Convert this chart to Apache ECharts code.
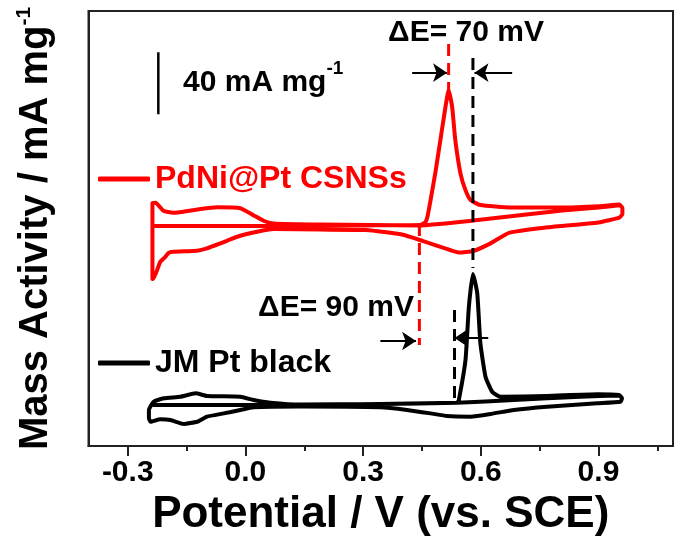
<!DOCTYPE html>
<html><head><meta charset="utf-8">
<script src="https://cdn.jsdelivr.net/npm/echarts@6/dist/echarts.min.js"></script>
<style>html,body{margin:0;padding:0;background:#fff}#c{width:685px;height:543px}</style>
</head><body><div id="c"></div>
<script>
const FONT = "'Liberation Sans', Arial, sans-serif";
const xTickLabels = [-0.3, 0.0, 0.3, 0.6, 0.9];
const xMinorTicks = [-0.15, 0.15, 0.45, 0.75, 1.05];
const seriesNames = ['PdNi@Pt CSNSs', 'JM Pt black'];

// potential (V) vs. mass activity (mA mg-1, curves offset vertically)
const redCurve = [
  [-0.237,141.6],[0.071,141.6],[0.300,142.0],[0.446,142.2],[0.459,144.1],[0.464,147.6],[0.472,158.3],[0.484,175.7],
  [0.497,196.9],[0.510,218.3],[0.518,229.1],[0.527,218.3],[0.535,196.9],[0.548,175.7],[0.561,164.7],[0.574,158.3],
  [0.599,155.1],[0.676,153.5],[0.803,153.5],[0.905,154.4],[0.953,155.4],[0.961,153.2],[0.961,149.3],[0.953,147.0],
  [0.900,143.9],[0.762,140.5],[0.672,137.2],[0.626,130.6],[0.581,125.5],[0.544,124.5],[0.507,127.4],[0.453,131.9],
  [0.399,136.1],[0.308,139.0],[0.191,139.3],[0.071,139.6],[0.030,137.9],[-0.021,134.7],[-0.064,130.4],[-0.098,127.2],
  [-0.123,125.7],[-0.184,125.0],[-0.196,124.2],[-0.204,121.8],[-0.217,118.6],[-0.235,107.5],[-0.237,107.5],[-0.237,156.4],
  [-0.229,156.6],[-0.209,151.4],[-0.184,150.1],[-0.158,150.8],[-0.115,152.5],[-0.072,153.6],[-0.013,153.0],[0.020,148.6],
  [0.046,145.0],[0.071,143.2],[0.191,142.5],[0.444,142.0],[0.581,145.1],[0.716,149.0],[0.808,151.5],[0.900,153.5],[0.953,155.0]
];
const blackCurve = [
  [-0.234,26.4],[0.140,26.4],[0.540,27.9],[0.544,29.6],[0.561,55.3],[0.569,87.5],[0.574,100.4],[0.580,110.7],
  [0.591,98.3],[0.599,66.1],[0.612,44.6],[0.629,34.9],[0.650,31.7],[0.769,32.2],[0.897,33.3],[0.952,32.8],
  [0.960,30.7],[0.956,28.5],[0.897,27.5],[0.769,25.3],[0.684,23.2],[0.625,20.6],[0.574,18.9],[0.514,19.3],
  [0.472,21.0],[0.412,23.2],[0.344,24.9],[0.140,25.4],[0.021,24.9],[-0.013,23.2],[-0.055,21.0],[-0.098,18.9],
  [-0.123,15.6],[-0.157,14.2],[-0.191,16.7],[-0.217,17.2],[-0.242,15.6],[-0.246,18.0],[-0.246,23.2],[-0.234,28.5],
  [-0.208,30.7],[-0.166,31.7],[-0.127,33.9],[-0.098,32.2],[-0.013,31.7],[0.021,29.6],[0.064,27.9],[0.140,26.7],
  [0.344,27.0],[0.540,27.9],[0.684,29.6],[0.854,31.7],[0.952,32.5]
];
const scaleBar = [[-0.222, 213.6], [-0.222, 253.5]];
const redDashTop = [[0.518, 258.7], [0.518, 229.0]];
const blackDashTop = [[0.580, 249.7], [0.580, 114.5]];
const redDashBottom = [[0.4435, 142.9], [0.4435, 65.0]];
const blackDashBottom = [[0.533, 87.5], [0.533, 29.6]];
const arrowSegments = [
  [[0.425, 240.3], [0.514, 240.3]],
  [[0.680, 240.3], [0.584, 240.3]],
  [[0.344, 67.6], [0.435, 67.6]],
  [[0.619, 69.5], [0.533, 69.5]]
];

const chart = echarts.init(document.getElementById('c'), null, {renderer: 'canvas'});
const axisCommon = {
  type: 'value', min: -0.4, max: 1.09, position: 'bottom',
  splitLine: {show: false}
};
const dashSeries = (data, color) => ({
  type: 'line', data, symbol: 'none', silent: true, z: 5,
  lineStyle: {color, width: 3, type: [12, 7]}
});
chart.setOption({
  animation: false,
  backgroundColor: '#fff',
  grid: {left: 88.5, right: 12, top: 11, bottom: 97, show: true, borderColor: '#222', borderWidth: 2, backgroundColor: 'transparent'},
  xAxis: [
    Object.assign({}, axisCommon, {
      name: 'Potential / V (vs. SCE)', nameLocation: 'middle', nameGap: 37,
      nameTextStyle: {fontFamily: FONT, fontWeight: 'bold', fontSize: 44, color: '#000'},
      axisLine: {show: true, onZero: false, lineStyle: {color: '#222', width: 2}},
      axisTick: {show: true, inside: false, length: 10, lineStyle: {color: '#222', width: 2}, customValues: xTickLabels},
      axisLabel: {show: true, margin: 12, customValues: xTickLabels, formatter: v => v.toFixed(1),
        fontFamily: FONT, fontWeight: 'bold', fontSize: 30, color: '#000'}
    }),
    Object.assign({}, axisCommon, {
      axisLine: {show: false, onZero: false},
      axisTick: {show: true, inside: false, length: 5, lineStyle: {color: '#222', width: 2}, customValues: xMinorTicks},
      axisLabel: {show: false}
    })
  ],
  yAxis: {
    type: 'value', min: 0, max: 280,
    name: '{a|Mass Activity / mA mg}{b|-1}', nameLocation: 'middle', nameGap: 30,
    nameTextStyle: {color: '#000', rich: {
      a: {fontFamily: FONT, fontWeight: 'bold', fontSize: 40, color: '#000'},
      b: {fontFamily: FONT, fontWeight: 'bold', fontSize: 21, color: '#000', padding: [0, 0, 24, 0]}
    }},
    axisLine: {show: true, onZero: false, lineStyle: {color: '#222', width: 2}},
    axisTick: {show: false}, axisLabel: {show: false}, splitLine: {show: false}
  },
  legend: [
    {data: [seriesNames[0]], left: 98, top: 163, padding: 0, icon: 'roundRect', itemWidth: 52, itemHeight: 5,
      textStyle: {fontFamily: FONT, fontWeight: 'bold', fontSize: 32, color: '#ff0000'}},
    {data: [seriesNames[1]], left: 98, top: 347, padding: 0, icon: 'roundRect', itemWidth: 52, itemHeight: 5,
      textStyle: {fontFamily: FONT, fontWeight: 'bold', fontSize: 32, color: '#000'}}
  ],
  series: [
    dashSeries(redDashTop, '#ff0000'),
    dashSeries(blackDashTop, '#000'),
    dashSeries(redDashBottom, '#ff0000'),
    dashSeries(blackDashBottom, '#000'),
    {name: seriesNames[0], type: 'line', data: redCurve, symbol: 'none', smooth: 0.15, z: 3,
      color: '#ff0000', lineStyle: {color: '#ff0000', width: 4, cap: 'round', join: 'round'}},
    {name: seriesNames[1], type: 'line', data: blackCurve, symbol: 'none', smooth: 0.15, z: 3,
      color: '#000', lineStyle: {color: '#000', width: 4, cap: 'round', join: 'round'}},
    {type: 'line', data: scaleBar, symbol: 'none', silent: true, color: '#000',
      lineStyle: {color: '#000', width: 2.5},
      markLine: {silent: true, symbol: ['none', 'arrow'], symbolSize: 14, label: {show: false},
        lineStyle: {color: '#000', width: 2, type: 'solid'},
        emphasis: {disabled: true},
        data: arrowSegments.map(s => [{coord: s[0]}, {coord: s[1]}])}}
  ],
  graphic: [
    {type: 'text', x: 466, y: 33, style: {text: 'ΔE= 70 mV', fill: '#000', fontFamily: FONT, fontWeight: 'bold', fontSize: 30, align: 'center', verticalAlign: 'middle'}},
    {type: 'text', x: 336, y: 308, style: {text: 'ΔE= 90 mV', fill: '#000', fontFamily: FONT, fontWeight: 'bold', fontSize: 30, align: 'center', verticalAlign: 'middle'}},
    {type: 'text', x: 183, y: 83, style: {text: '{a|40 mA mg}{b|-1}', align: 'left', verticalAlign: 'middle',
      rich: {a: {fontFamily: FONT, fontWeight: 'bold', fontSize: 30, fill: '#000', color: '#000'},
             b: {fontFamily: FONT, fontWeight: 'bold', fontSize: 19, fill: '#000', color: '#000', padding: [0, 0, 28, 0]}}}}
  ]
});
</script></body></html>
